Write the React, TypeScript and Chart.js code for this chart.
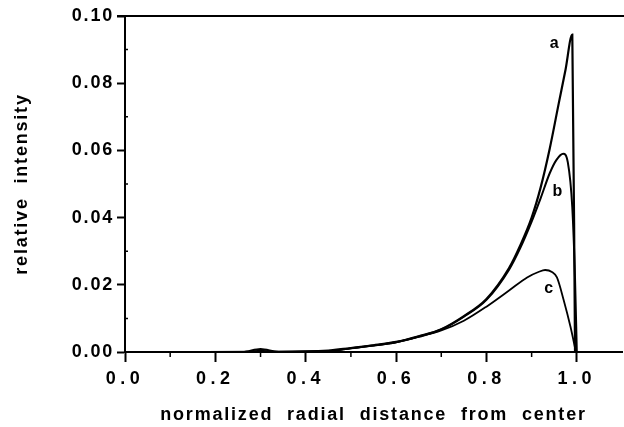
import React, { useEffect, useRef } from 'react';
import { Chart, registerables } from 'chart.js';
Chart.register(...registerables);

// Axis ticks
const xTicks = [0, 0.2, 0.4, 0.6, 0.8, 1.0];
const xMinorTicks = [0.1, 0.3, 0.5, 0.7, 0.9];
const yTicks = [0, 0.02, 0.04, 0.06, 0.08, 0.1];
const yMinorTicks = [0.01, 0.03, 0.05, 0.07, 0.09];

// Curve a
const aX = [0, 0.26, 0.3, 0.34, 0.45, 0.5, 0.55, 0.6, 0.65, 0.7, 0.75, 0.8, 0.85, 0.875, 0.9, 0.92, 0.94, 0.96, 0.975, 0.99, 0.996];
const aY = [0, 0, 0.0009, 0, 0.0004, 0.0012, 0.002, 0.003, 0.0047, 0.0068, 0.0107, 0.0158, 0.025, 0.0318, 0.0400, 0.0490, 0.0605, 0.0740, 0.0840, 0.0945, 0];

// Curve b
const bX = [0, 0.27, 0.3, 0.33, 0.45, 0.5, 0.55, 0.6, 0.65, 0.7, 0.75, 0.8, 0.85, 0.875, 0.9, 0.92, 0.94, 0.955, 0.97, 0.98, 0.99, 0.996, 1.0];
const bY = [0, 0, 0.0004, 0, 0.0003, 0.0011, 0.0019, 0.0029, 0.0046, 0.0067, 0.0105, 0.0155, 0.0245, 0.031, 0.0388, 0.0458, 0.0532, 0.0572, 0.0590, 0.0565, 0.043, 0.022, 0];

// Curve c
const cX = [0, 0.45, 0.5, 0.55, 0.6, 0.65, 0.7, 0.75, 0.8, 0.85, 0.89, 0.915, 0.93, 0.945, 0.956, 0.971, 0.986, 0.998];
const cY = [0, 0.0003, 0.0011, 0.0019, 0.0029, 0.0045, 0.0064, 0.0093, 0.0135, 0.0183, 0.0222, 0.0238, 0.0244, 0.0238, 0.0222, 0.0154, 0.0075, 0];

// Curve labels
const curveLabels = ['a', 'b', 'c'];
const curveLabelX = [0.950, 0.957, 0.938];
const curveLabelY = [0.0918, 0.0476, 0.0189];

const FONT = '"Liberation Sans", Arial, Helvetica, sans-serif';

const pts = (xs: number[], ys: number[]) => xs.map((x, i) => ({ x, y: ys[i] }));

const decorPlugin = {
  id: 'decor',
  beforeDraw(chart: any) {
    const ctx = chart.ctx as any;
    ctx.letterSpacing = '1.8px';
    ctx.wordSpacing = '7px';
  },
  afterDatasetsDraw(chart: any) {
    const ctx = chart.ctx as any;
    const { left, right, top, bottom } = chart.chartArea;
    const xs = chart.scales.x;
    const ys = chart.scales.y;
    ctx.save();
    ctx.strokeStyle = '#000';
    ctx.lineWidth = 2;
    ctx.beginPath();
    ctx.moveTo(left - 8, top);
    ctx.lineTo(right + 2, top);
    ctx.stroke();
    // minor ticks
    ctx.lineWidth = 1.5;
    ctx.beginPath();
    xMinorTicks.forEach((v) => {
      const px = xs.getPixelForValue(v);
      ctx.moveTo(px, bottom);
      ctx.lineTo(px, bottom + 5);
    });
    yMinorTicks.forEach((v) => {
      const py = ys.getPixelForValue(v);
      ctx.moveTo(left, py);
      ctx.lineTo(left + 3, py);
    });
    ctx.stroke();
    // curve labels
    ctx.letterSpacing = '0px';
    ctx.font = 'bold 16px ' + FONT;
    ctx.textAlign = 'center';
    ctx.textBaseline = 'middle';
    ctx.fillStyle = '#000';
    curveLabels.forEach((t, i) => {
      ctx.fillText(t, xs.getPixelForValue(curveLabelX[i]), ys.getPixelForValue(curveLabelY[i]));
    });
    ctx.restore();
    ctx.letterSpacing = '4.5px';
    ctx.wordSpacing = '0px';
  },
  afterDraw(chart: any) {
    const ctx = chart.ctx as any;
    ctx.letterSpacing = '0px';
    ctx.wordSpacing = '0px';
  },
};

export default function App() {
  const ref = useRef<HTMLCanvasElement>(null);
  useEffect(() => {
    document.body.style.margin = '0';
    if (!ref.current) return;
    const ds = (label: string, xs: number[], ys: number[], w: number) => ({
      label,
      data: pts(xs, ys),
      borderColor: '#000',
      backgroundColor: '#000',
      borderWidth: w,
      pointRadius: 0,
      fill: false,
      cubicInterpolationMode: 'monotone' as const,
    });
    const chart = new Chart(ref.current, {
      type: 'line',
      data: {
        datasets: [ds('a', aX, aY, 2.2), ds('b', bX, bY, 2), ds('c', cX, cY, 1.8)],
      },
      plugins: [decorPlugin],
      options: {
        animation: false,
        responsive: true,
        maintainAspectRatio: false,
        layout: { padding: { top: 16, right: 2, left: 0, bottom: 0 } },
        plugins: { legend: { display: false }, tooltip: { enabled: false } },
        scales: {
          x: {
            type: 'linear',
            min: 0,
            max: 1.1,
            afterBuildTicks: (s: any) => {
              s.ticks = xTicks.map((v) => ({ value: v }));
            },
            afterFit: (s: any) => {
              s.height = 75;
            },
            ticks: {
              z: 1,
              padding: 6,
              color: '#000',
              font: { family: FONT, size: 18, weight: 'bold' },
              callback: (v: any) => Number(v).toFixed(1),
              maxRotation: 0,
              autoSkip: false,
            },
            grid: { drawOnChartArea: false, drawTicks: true, tickLength: 10, tickWidth: 2, tickColor: '#000' },
            border: { display: true, color: '#000', width: 2 },
            title: {
              display: true,
              text: 'normalized radial distance from center',
              color: '#000',
              font: { family: FONT, size: 18, weight: 'bold' },
              padding: { top: 0, bottom: 1 },
            },
          },
          y: {
            type: 'linear',
            min: 0,
            max: 0.1,
            afterBuildTicks: (s: any) => {
              s.ticks = yTicks.map((v) => ({ value: v }));
            },
            afterFit: (s: any) => {
              s.width = 125;
            },
            ticks: {
              padding: 3,
              color: '#000',
              font: { family: FONT, size: 18, weight: 'bold' },
              callback: (v: any) => Number(v).toFixed(2),
              autoSkip: false,
            },
            grid: { drawOnChartArea: false, drawTicks: true, tickLength: 8, tickWidth: 2, tickColor: '#000' },
            border: { display: true, color: '#000', width: 2 },
            title: {
              display: true,
              text: 'relative intensity',
              color: '#000',
              font: { family: FONT, size: 18, weight: 'bold' },
              padding: { top: 11, bottom: 0 },
            },
          },
        },
      },
    });
    return () => chart.destroy();
  }, []);
  return (
    <div style={{ width: 624, height: 427, position: 'relative' }}>
      <canvas ref={ref} />
    </div>
  );
}
